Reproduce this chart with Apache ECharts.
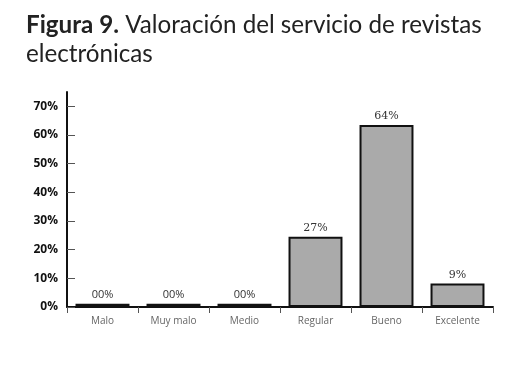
<!DOCTYPE html>
<html><head><meta charset="utf-8">
<script src="https://cdn.jsdelivr.net/npm/echarts@6/dist/echarts.min.js"></script>
<style>html,body{margin:0;padding:0;background:#fff}#c{width:521px;height:367px}</style>
</head><body><div id="c"></div>
<script>
const categories = ['Malo', 'Muy malo', 'Medio', 'Regular', 'Bueno', 'Excelente'];
const values = [1.1, 1.1, 1.1, 24.5, 63.5, 8.2];
const valueLabels = ['00%', '00%', '00%', '27%', '64%', '9%'];
const yTicks = [0, 10, 20, 30, 40, 50, 60, 70];

const chart = echarts.init(document.getElementById('c'));
chart.setOption({
  animation: false,
  title: {
    text: '{b|Figura 9.} Valoración del servicio de revistas\nelectrónicas',
    left: 21, top: 6,
    textStyle: {
      fontFamily: 'Lato', fontSize: 24.2, fontWeight: 'normal', color: '#222', lineHeight: 29,
      rich: { b: { fontFamily: 'Lato', fontSize: 24.2, fontWeight: 'bold', color: '#222' } }
    }
  },
  grid: { left: 67, right: 28, top: 92, bottom: 60, containLabel: false },
  xAxis: {
    type: 'category', data: categories,
    axisLine: { lineStyle: { color: '#111', width: 2 } },
    axisTick: { show: true, length: 6, lineStyle: { color: '#555' }, alignWithLabel: false },
    axisLabel: { color: '#666', fontSize: 10, fontFamily: 'Open Sans', margin: 9 }
  },
  yAxis: {
    type: 'value', min: 0, max: 75, interval: 10,
    axisLine: { show: true, lineStyle: { color: '#111', width: 2 } },
    axisTick: { show: true, inside: true, length: 8, lineStyle: { color: '#555' } },
    splitLine: { show: false },
    axisLabel: {
      color: '#111', fontSize: 12, fontWeight: 'bold', fontFamily: 'Open Sans', margin: 9,
      showMaxLabel: false,
      formatter: v => yTicks.includes(v) ? v + '%' : ''
    }
  },
  series: [{
    type: 'bar',
    data: values.map((v, i) => ({
      value: v,
      itemStyle: { color: v < 2 ? '#111' : '#aaaaaa' },
      label: { fontFamily: v < 2 ? 'Open Sans' : 'DejaVu Serif' }
    })),
    barCategoryGap: '24%',
    itemStyle: { borderColor: '#111', borderWidth: 2 },
    label: {
      show: true, position: 'top', distance: 3, color: '#333', fontSize: 11,
      formatter: p => valueLabels[p.dataIndex]
    }
  }]
});
</script></body></html>
